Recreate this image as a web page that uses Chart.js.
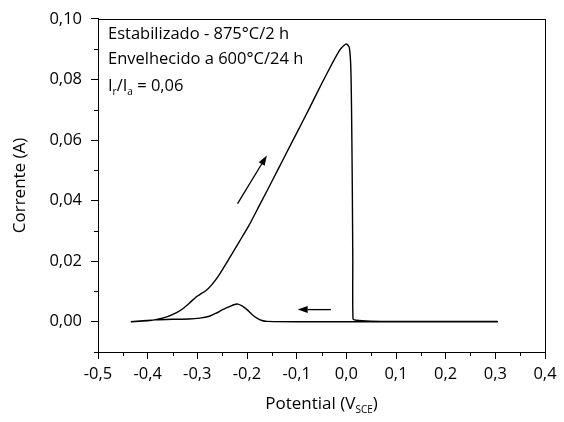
<!DOCTYPE html>
<html>
<head>
<meta charset="utf-8">
<script src="https://cdn.jsdelivr.net/npm/chart.js@4/dist/chart.umd.min.js"></script>
<style>
  html, body { margin: 0; padding: 0; background: #fff; }
  #wrap { width: 564px; height: 422px; }
</style>
</head>
<body>
<div id="wrap"><canvas id="chart" width="564" height="422"></canvas></div>
<script>
// polarization curve data
const forwardE = [-0.434, -0.40, -0.384, -0.36, -0.343, -0.33, -0.315, -0.303, -0.293, -0.283, -0.272, -0.256, -0.236, -0.216, -0.196, -0.175, -0.15, -0.125, -0.10, -0.075, -0.05, -0.03, -0.014, -0.005, 0.001, 0.006, 0.009, 0.0105, 0.012, 0.013, 0.0135, 0.02, 0.05, 0.1, 0.2, 0.304];
const forwardI = [0, 0.0003, 0.0007, 0.0017, 0.0029, 0.0042, 0.0063, 0.0081, 0.0092, 0.0102, 0.0120, 0.0155, 0.0208, 0.0263, 0.0318, 0.0384, 0.0463, 0.0543, 0.0623, 0.0703, 0.0785, 0.0848, 0.0895, 0.0912, 0.0917, 0.0905, 0.0840, 0.0700, 0.0450, 0.0200, 0.0010, 0.0005, 0.0002, 0.0001, 0.0001, 0.0001];
const reverseE = [0.304, 0.2, 0.1, 0.0, -0.1, -0.16, -0.17, -0.18, -0.19, -0.20, -0.21, -0.218, -0.225, -0.235, -0.25, -0.262, -0.276, -0.295, -0.317, -0.35, -0.384, -0.434];
const reverseI = [0, 0, 0, 0, 0, 0.0001, 0.0004, 0.0012, 0.0024, 0.0040, 0.0052, 0.0058, 0.0057, 0.0050, 0.0039, 0.0028, 0.0018, 0.0012, 0.0009, 0.0008, 0.0006, 0];

// arrows: [tail, tip] in data units
const upArrow = [[-0.219, 0.039], [-0.160, 0.0549]];
const leftArrow = [[-0.031, 0.004], [-0.098, 0.004]];

const infoLines = ["Estabilizado - 875°C/2 h", "Envelhecido a 600°C/24 h"];

const points = [];
forwardE.forEach((e, i) => points.push({ x: e, y: forwardI[i] }));
reverseE.forEach((e, i) => points.push({ x: e, y: reverseI[i] }));

Chart.defaults.font.family = "'Open Sans', Lato, sans-serif";
Chart.defaults.color = "#000";

function isMajorX(v) { return Math.round(v * 100) % 10 === 0; }
function isMajorY(v) { return Math.round(v * 100) % 2 === 0; }

const extras = {
  id: "extras",
  afterDraw(chart) {
    const ctx = chart.ctx;
    const a = chart.chartArea;
    const xs = chart.scales.x, ys = chart.scales.y;
    ctx.save();
    ctx.strokeStyle = "#000";
    ctx.fillStyle = "#000";

    // frame
    ctx.lineWidth = 1;
    ctx.strokeRect(Math.round(a.left) + 0.5, Math.round(a.top) + 0.5, Math.round(a.right - a.left), Math.round(a.bottom - a.top));

    // minor ticks
    ctx.beginPath();
    xs.ticks.forEach(t => {
      if (!isMajorX(t.value)) {
        const px = Math.round(xs.getPixelForValue(t.value)) + 0.5;
        ctx.moveTo(px, a.bottom); ctx.lineTo(px, a.bottom + 4);
      }
    });
    ys.ticks.forEach(t => {
      if (!isMajorY(t.value)) {
        const py = Math.round(ys.getPixelForValue(t.value)) + 0.5;
        ctx.moveTo(a.left, py); ctx.lineTo(a.left - 4, py);
      }
    });
    ctx.stroke();

    // arrows
    [upArrow, leftArrow].forEach(ar => {
      const x0 = xs.getPixelForValue(ar[0][0]), y0 = ys.getPixelForValue(ar[0][1]);
      const x1 = xs.getPixelForValue(ar[1][0]), y1 = ys.getPixelForValue(ar[1][1]);
      const ang = Math.atan2(y1 - y0, x1 - x0);
      const hl = 10, hw = 3.5;
      ctx.lineWidth = 1.3;
      ctx.beginPath();
      ctx.moveTo(x0, y0);
      ctx.lineTo(x1 - hl * Math.cos(ang), y1 - hl * Math.sin(ang));
      ctx.stroke();
      ctx.beginPath();
      ctx.moveTo(x1, y1);
      ctx.lineTo(x1 - hl * Math.cos(ang) + hw * Math.sin(ang), y1 - hl * Math.sin(ang) - hw * Math.cos(ang));
      ctx.lineTo(x1 - hl * Math.cos(ang) - hw * Math.sin(ang), y1 - hl * Math.sin(ang) + hw * Math.cos(ang));
      ctx.closePath();
      ctx.fill();
    });

    // info text
    const fam = Chart.defaults.font.family;
    const big = "16.5px " + fam, small = "10px " + fam, title = "17px " + fam;
    ctx.font = big;
    ctx.textAlign = "left";
    ctx.textBaseline = "alphabetic";
    const tx = a.left + 10;
    ctx.fillText(infoLines[0], tx, 39);
    ctx.fillText(infoLines[1], tx, 64);
    let cx = tx;
    const sub = (main, s, y) => {
      ctx.font = big;
      ctx.fillText(main, cx, y);
      cx += ctx.measureText(main).width;
      if (s) {
        ctx.font = small;
        ctx.fillText(s, cx, y + 4);
        cx += ctx.measureText(s).width;
      }
    };
    sub("I", "r", 91);
    sub("/I", "a", 91);
    sub(" = 0,06", "", 91);

    // axis titles
    ctx.font = title;
    ctx.save();
    ctx.translate(25, (a.top + a.bottom) / 2);
    ctx.rotate(-Math.PI / 2);
    ctx.textAlign = "center";
    ctx.fillText("Corrente (A)", 0, 0);
    ctx.restore();

    const t1 = "Potential (V", t2 = "SCE", t3 = ")";
    ctx.font = title;
    const w1 = ctx.measureText(t1).width, w3 = ctx.measureText(t3).width;
    ctx.font = small;
    const w2 = ctx.measureText(t2).width;
    let px = (a.left + a.right) / 2 - (w1 + w2 + w3) / 2;
    const by = 409;
    ctx.textAlign = "left";
    ctx.font = title;
    ctx.fillText(t1, px, by); px += w1;
    ctx.font = small;
    ctx.fillText(t2, px, by + 4); px += w2;
    ctx.font = title;
    ctx.fillText(t3, px, by);
    ctx.restore();
  }
};

new Chart(document.getElementById("chart"), {
  type: "scatter",
  data: {
    datasets: [{
      data: points,
      showLine: true,
      borderColor: "#000",
      borderWidth: 1.4,
      pointRadius: 0,
      tension: 0.2,
      fill: false
    }]
  },
  options: {
    responsive: false,
    animation: false,
    layout: { padding: { left: 0, top: 18, right: 19, bottom: 0 } },
    plugins: { legend: { display: false }, tooltip: { enabled: false } },
    scales: {
      x: {
        type: "linear",
        min: -0.5,
        max: 0.4,
        afterFit: s => { s.height = 70; },
        border: { display: true, color: "#000", width: 1 },
        grid: {
          drawOnChartArea: false,
          tickLength: 7,
          tickColor: c => (c.tick && isMajorX(c.tick.value)) ? "#000" : "rgba(0,0,0,0)"
        },
        ticks: {
          stepSize: 0.05,
          autoSkip: false,
          maxRotation: 0,
          padding: 5,
          font: { size: 16.5 },
          callback: v => isMajorX(v) ? (Math.round(v * 10) / 10).toFixed(1).replace("-0.0", "0.0").replace(".", ",") : ""
        }
      },
      y: {
        type: "linear",
        min: -0.01,
        max: 0.10,
        afterFit: s => { s.width = 98; },
        border: { display: true, color: "#000", width: 1 },
        grid: {
          drawOnChartArea: false,
          tickLength: 7,
          tickColor: c => (c.tick && isMajorY(c.tick.value)) ? "#000" : "rgba(0,0,0,0)"
        },
        ticks: {
          stepSize: 0.01,
          autoSkip: false,
          padding: 9,
          font: { size: 16.5 },
          callback: v => isMajorY(v) ? (Math.round(v * 100) / 100).toFixed(2).replace(".", ",") : ""
        }
      }
    }
  },
  plugins: [extras]
});
</script>
</body>
</html>
